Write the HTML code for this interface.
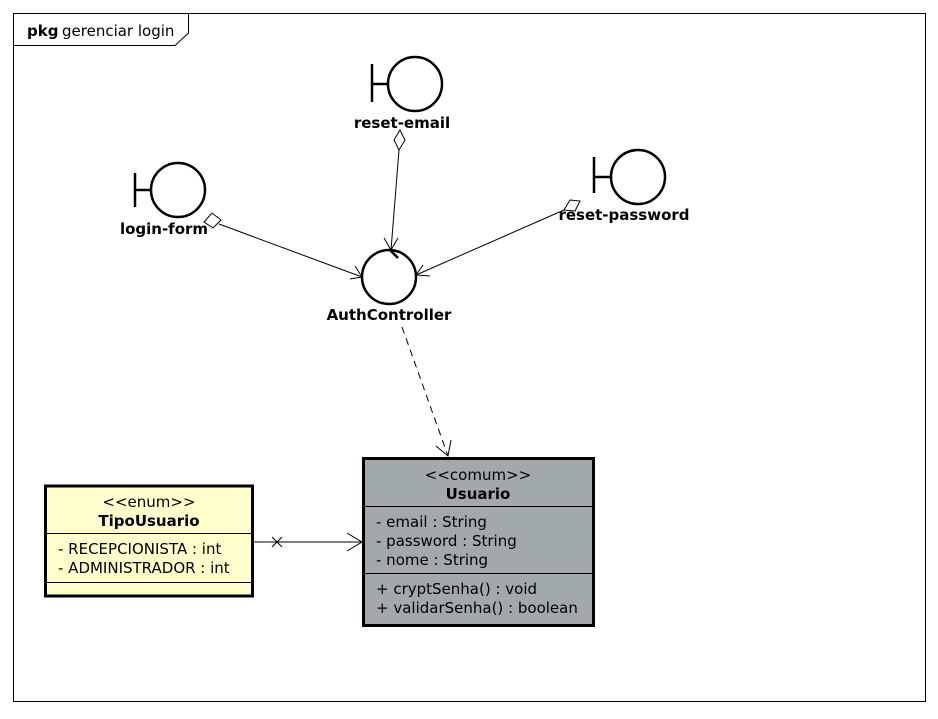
<!DOCTYPE html>
<html><head><meta charset="utf-8"><style>
html,body{margin:0;padding:0;background:#fff;}
svg text{font-family:"DejaVu Sans","Liberation Sans",sans-serif;}
</style></head><body>
<svg width="938" height="714" viewBox="0 0 938 714" xmlns="http://www.w3.org/2000/svg">
<rect width="938" height="714" fill="#fff"/>
<rect x="13.5" y="13.5" width="912" height="688" fill="none" stroke="#000" stroke-width="1"/>
<path d="M13.5 45.5 H175 L188.5 33 V13.5" fill="none" stroke="#000"/>
<text x="27" y="36" font-size="15" font-weight="bold">pkg</text>
<text x="62" y="36" font-size="15">gerenciar login</text>

<g fill="none" stroke="#000" stroke-width="2.5">
<line x1="372" y1="64" x2="372" y2="102"/><line x1="372" y1="84" x2="388" y2="84"/>
<circle cx="415" cy="84" r="27"/>
<line x1="135" y1="173" x2="135" y2="207"/><line x1="135" y1="190" x2="151" y2="190"/>
<circle cx="178" cy="190" r="27"/>
<line x1="594" y1="157" x2="594" y2="193"/><line x1="594" y1="177" x2="610" y2="177"/>
<circle cx="638" cy="177" r="27"/>
<circle cx="389" cy="277" r="27"/>
<line x1="390" y1="250" x2="398" y2="258"/>
</g>
<g font-size="15" text-anchor="middle" font-weight="bold" fill="#000">
<text x="402" y="128">reset-email</text>
<text x="164" y="234">login-form</text>
<text x="624" y="220">reset-password</text>
<text x="389" y="320">AuthController</text>
</g>

<g fill="none" stroke="#000" stroke-width="1">
<path d="M204 222 L212 213 L221 220 L213 228 Z" fill="#fff"/>
<line x1="219" y1="224" x2="362" y2="277"/>
<path d="M355 266 L362 277 L350 279"/>
<path d="M400 130 L405 140 L399 150 L394 140 Z" fill="#fff"/>
<line x1="399" y1="150" x2="391" y2="250"/>
<path d="M384 238 L391 250 L398 238"/>
<path d="M570 200 L580 201 L575 211 L564 210 Z" fill="#fff"/>
<line x1="564" y1="210" x2="416" y2="275"/>
<path d="M423 265 L416 275 L430 276"/>
<line x1="402" y1="327" x2="448" y2="456" stroke-dasharray="7,5"/>
<path d="M436 446 L448 456 L451 440"/>
<line x1="253" y1="542" x2="362" y2="542"/>
<path d="M272 537 L282 547 M272 547 L282 537"/>
<path d="M347 533 L362 542 L347 551"/>
</g>

<rect x="363.5" y="458.5" width="230" height="167" fill="#a2a9ab" stroke="#000" stroke-width="3"/>
<line x1="363" y1="506.5" x2="594" y2="506.5" stroke="#000"/>
<line x1="363" y1="573.5" x2="594" y2="573.5" stroke="#000"/>
<text x="478" y="480" font-size="15" text-anchor="middle">&lt;&lt;comum&gt;&gt;</text>
<text x="478" y="499" font-size="15" font-weight="bold" text-anchor="middle">Usuario</text>
<g font-size="15">
<text x="376" y="527">- email : String</text>
<text x="376" y="546">- password : String</text>
<text x="376" y="565">- nome : String</text>
<text x="376" y="594">+ cryptSenha() : void</text>
<text x="376" y="613">+ validarSenha() : boolean</text>
</g>

<rect x="45.5" y="486" width="207" height="110" fill="#ffffcc" stroke="#000" stroke-width="3"/>
<line x1="45" y1="533.5" x2="252" y2="533.5" stroke="#000"/>
<line x1="45" y1="582.5" x2="252" y2="582.5" stroke="#000"/>
<text x="149" y="507" font-size="15" text-anchor="middle">&lt;&lt;enum&gt;&gt;</text>
<text x="149" y="526" font-size="15" font-weight="bold" text-anchor="middle">TipoUsuario</text>
<g font-size="15">
<text x="58" y="554">- RECEPCIONISTA : int</text>
<text x="58" y="573">- ADMINISTRADOR : int</text>
</g>
</svg>
</body></html>
